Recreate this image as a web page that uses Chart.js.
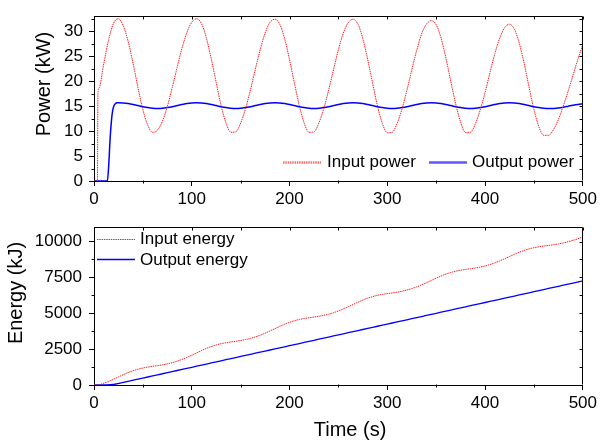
<!DOCTYPE html>
<html><head><meta charset="utf-8">
<script src="https://cdn.jsdelivr.net/npm/chart.js@4.4.0/dist/chart.umd.min.js"></script>
<style>
html,body{margin:0;padding:0;background:#fff;}
#wrap{position:relative;width:600px;height:441px;overflow:hidden;background:#fff;}
canvas{position:absolute;left:0;}
#c1{top:0;}
#c2{top:210px;}
</style></head><body>
<div id="wrap"><canvas id="c1" width="600" height="210"></canvas><canvas id="c2" width="600" height="231"></canvas></div>
<script>
// ---------- data ----------
const powerTime = [0,3.5,4,5,10,15,20,25,30,35,40,45,50,55,60,65,70,75,80,85,90,95,100,105,110,115,120,125,130,135,140,145,150,155,160,165,170,175,180,185,190,195,200,205,210,215,220,225,230,235,240,245,250,255,260,265,270,275,280,285,290,295,300,305,310,315,320,325,330,335,340,345,350,355,360,365,370,375,380,385,390,395,400,405,410,415,420,425,430,435,440,445,450,455,460,465,470,475,480,485,490,495,500];
const inputPower = [0,0,17.5,18.5,23.5,28.3,31.6,32.5,31.05,27.9,23.5,18.7,14.3,11.15,9.75,10.2,12.0,14.9,18.7,22.7,26.6,29.7,31.8,32.5,31.5,28.6,24.4,19.7,15.1,11.65,9.75,9.85,11.6,14.5,18.2,22.35,26.3,29.6,31.75,32.4,31.4,28.5,24.3,19.6,15.1,11.6,9.75,9.85,11.6,14.5,18.2,22.3,26.3,29.6,31.7,32.4,31.4,28.5,24.3,19.6,15.0,11.5,9.65,9.75,11.5,14.4,18.1,22.2,26.1,29.4,31.4,32.1,31.3,28.6,24.6,19.9,15.4,11.8,9.7,9.75,11.4,14.2,17.7,21.7,25.5,28.6,30.7,31.4,30.4,27.6,23.5,18.8,14.3,10.9,9.15,9.15,10.3,12.3,15.0,18.0,21.2,24.4,27.3];

const outTime = [0,13.7,15,16.5,17.8,19,20.5,22,23.5,25,30,35,40,45,50,55,60,65,70,75,80,85,90,95,100,105,110,115,120,125,130,135,140,145,150,155,160,165,170,175,180,185,190,195,200,205,210,215,220,225,230,235,240,245,250,255,260,265,270,275,280,285,290,295,300,305,310,315,320,325,330,335,340,345,350,355,360,365,370,375,380,385,390,395,400,405,410,415,420,425,430,435,440,445,450,455,460,465,470,475,480,485,490,495,500];
const outputPower = [0,0,3,8.5,12,14,15.1,15.5,15.65,15.67,
 15.63,15.50,15.32,15.10,14.88,14.70,14.57,14.53,14.57,14.70,14.88,15.10,15.32,15.50,15.63,15.67,
 15.63,15.50,15.32,15.10,14.88,14.70,14.57,14.53,14.57,14.70,14.88,15.10,15.32,15.50,15.63,15.67,
 15.63,15.50,15.32,15.10,14.88,14.70,14.57,14.53,14.57,14.70,14.88,15.10,15.32,15.50,15.63,15.67,
 15.63,15.50,15.32,15.10,14.88,14.70,14.57,14.53,14.57,14.70,14.88,15.10,15.32,15.50,15.63,15.67,
 15.63,15.50,15.32,15.10,14.88,14.70,14.57,14.53,14.57,14.70,14.88,15.10,15.32,15.50,15.63,15.67,
 15.63,15.50,15.32,15.10,14.88,14.70,14.57,14.52,14.54,14.62,14.78,14.98,15.18,15.34,15.45];

const energyTime = [0,5,10,15,20,25,30,35,40,45,50,55,60,65,70,75,80,85,90,95,100,105,110,115,120,125,130,135,140,145,150,155,160,165,170,175,180,185,190,195,200,205,210,215,220,225,230,235,240,245,250,255,260,265,270,275,280,285,290,295,300,305,310,315,320,325,330,335,340,345,350,355,360,365,370,375,380,385,390,395,400,405,410,415,420,425,430,435,440,445,450,455,460,465,470,475,480,485,490,495,500];
const inputEnergy = [0,18,123,252,402,562,721,868,997,1102,1185,1248,1301,1351,1406,1473,1557,1661,1784,1925,2079,2239,2399,2550,2682,2792,2879,2946,3000,3050,3104,3169,3251,3352,3474,3614,3767,3928,4088,4238,4370,4480,4567,4633,4687,4737,4791,4856,4938,5039,5161,5300,5454,5614,5773,5923,6055,6165,6251,6317,6371,6420,6473,6538,6619,6720,6841,6980,7132,7290,7449,7598,7731,7843,7931,7999,8053,8103,8156,8220,8300,8398,8516,8652,8800,8955,9110,9255,9382,9488,9571,9634,9684,9730,9779,9835,9904,9986,10084,10198,10327];

const outEnergyTime = [0,13,20,30,40,50,60,70,80,90,100,110,120,130,140,150,160,170,180,190,200,210,220,230,240,250,260,270,280,290,300,310,320,330,340,350,360,370,380,390,400,410,420,430,440,450,460,470,480,490,500];
const outputEnergy = [0,0,35,182,333,483,634,784,935,1085,1236,1386,1537,1687,1838,1988,2139,2289,2440,2590,2741,2891,3042,3192,3343,3493,3644,3794,3945,4095,4246,4396,4547,4697,4848,4998,5149,5299,5450,5600,5751,5901,6052,6202,6353,6503,6654,6804,6955,7105,7256];

const timeTicks = [0,100,200,300,400,500];
const powerTicks = [0,5,10,15,20,25,30];
const energyTicks = [0,2500,5000,7500,10000];

// ---------- helpers ----------
const FONT = '"Liberation Sans", Arial, Helvetica, sans-serif';
Chart.defaults.font.family = FONT;
Chart.defaults.color = '#000';
const pts = (xs, ys) => xs.map((x, i) => ({x, y: ys[i]}));

const decor = {
  id: 'decor',
  afterDraw(chart, args, o) {
    const ctx = chart.ctx, a = chart.chartArea, xs = chart.scales.x, ys = chart.scales.y;
    ctx.save();
    ctx.strokeStyle = '#000'; ctx.lineWidth = 1; ctx.setLineDash([]);
    const L = Math.round(a.left) + 0.5, R = Math.round(a.right) - 0.5, T = Math.round(a.top) + 0.5, B = Math.round(a.bottom) - 0.5;
    ctx.beginPath();
    ctx.moveTo(L, T); ctx.lineTo(R, T); ctx.lineTo(R, B);
    ctx.stroke();
    ctx.beginPath();
    o.xMinor.forEach(v => { const p = Math.round(xs.getPixelForValue(v)) + 0.5; ctx.moveTo(p, B); ctx.lineTo(p, B + 3); });
    o.yMinor.forEach(v => { const p = Math.round(ys.getPixelForValue(v)) + 0.5; ctx.moveTo(L, p); ctx.lineTo(L - 3, p); });
    o.xMinor.concat(o.xMajor).forEach(v => { const p = Math.round(xs.getPixelForValue(v)) + 0.5; ctx.moveTo(p, T); ctx.lineTo(p, T + 3); });
    o.yMinor.concat(o.yMajor).forEach(v => { const p = Math.round(ys.getPixelForValue(v)) + 0.5; ctx.moveTo(R, p); ctx.lineTo(R - 3, p); });
    ctx.stroke();
    ctx.font = '17px ' + FONT; ctx.fillStyle = '#000'; ctx.textBaseline = 'middle'; ctx.textAlign = 'left';
    o.legend.forEach(it => {
      ctx.save();
      ctx.strokeStyle = it.color; ctx.lineWidth = it.width; ctx.setLineDash(it.dash);
      ctx.beginPath(); ctx.moveTo(it.x1, it.y); ctx.lineTo(it.x2, it.y); ctx.stroke();
      ctx.restore();
      ctx.fillText(it.label, it.tx, it.ty);
    });
    ctx.font = '20px ' + FONT; ctx.textAlign = 'center'; ctx.textBaseline = 'middle';
    ctx.save(); ctx.translate(o.yTitle.x, o.yTitle.y); ctx.rotate(-Math.PI / 2); ctx.fillText(o.yTitle.text, 0, 0); ctx.restore();
    if (o.xTitle) ctx.fillText(o.xTitle.text, o.xTitle.x, o.xTitle.y);
    ctx.restore();
  }
};

function axisX(h) {
  return {
    type: 'linear', min: 0, max: 500,
    afterBuildTicks: s => { s.ticks = timeTicks.map(v => ({value: v})); },
    ticks: {maxRotation: 0, autoSkip: false, font: {size: 17}, padding: 3, color: '#000', callback: v => String(v)},
    grid: {drawOnChartArea: false, drawTicks: true, tickLength: 5, color: '#000', tickColor: '#000', lineWidth: 1},
    border: {display: true, color: '#000', width: 1},
    afterFit: s => { s.height = h; }
  };
}
function axisY(min, max, ticks, pad) {
  return {
    type: 'linear', min, max,
    afterBuildTicks: s => { s.ticks = ticks.map(v => ({value: v})); },
    ticks: {font: {size: 17}, padding: pad, color: '#000', callback: v => String(v)},
    grid: {drawOnChartArea: false, drawTicks: true, tickLength: 5, color: '#000', tickColor: '#000', lineWidth: 1},
    border: {display: true, color: '#000', width: 1},
    afterFit: s => { s.width = 94; }
  };
}

const common = {
  responsive: false, animation: false, events: [], devicePixelRatio: 1,
  plugins: {legend: {display: false}, tooltip: {enabled: false}},
  elements: {point: {radius: 0}, line: {cubicInterpolationMode: 'monotone', tension: 0.4}}
};

new Chart(document.getElementById('c1'), {
  type: 'line',
  data: {datasets: [
    {label: 'Input power', data: pts(powerTime, inputPower), borderColor: '#ff2020', borderWidth: 1, borderDash: [1.5, 0.8], fill: false},
    {label: 'Output power', data: pts(outTime, outputPower), borderColor: '#0000ff', borderWidth: 1.5, fill: false}
  ]},
  options: Object.assign({}, common, {
    layout: {padding: {left: 0, right: 17, top: 11, bottom: 0}},
    scales: {x: axisX(29), y: axisY(0, 33, powerTicks, 6)},
    plugins: Object.assign({}, common.plugins, {decor: {
      xMajor: timeTicks, xMinor: [50,150,250,350,450],
      yMajor: powerTicks, yMinor: [2.5,7.5,12.5,17.5,22.5,27.5,32.5],
      legend: [
        {label: 'Input power', x1: 283, x2: 321, y: 162.5, tx: 327, ty: 162, color: '#ff7070', width: 2.5, dash: [1.5, 0.8]},
        {label: 'Output power', x1: 429, x2: 467, y: 162.5, tx: 472, ty: 162, color: '#5a5aff', width: 2.5, dash: []}
      ],
      yTitle: {text: 'Power (kW)', x: 44.5, y: 84}
    }})
  }),
  plugins: [decor]
});

new Chart(document.getElementById('c2'), {
  type: 'line',
  data: {datasets: [
    {label: 'Input energy', data: pts(energyTime, inputEnergy), borderColor: '#ff2020', borderWidth: 1, borderDash: [1.5, 0.8], fill: false},
    {label: 'Output energy', data: pts(outEnergyTime, outputEnergy), borderColor: '#0000ff', borderWidth: 1.3, fill: false}
  ]},
  options: Object.assign({}, common, {
    layout: {padding: {left: 0, right: 17, top: 16, bottom: 0}},
    scales: {x: axisX(56), y: axisY(0, 11000, energyTicks, 7)},
    plugins: Object.assign({}, common.plugins, {decor: {
      xMajor: timeTicks, xMinor: [50,150,250,350,450],
      yMajor: energyTicks, yMinor: [1250,3750,6250,8750],
      legend: [
        {label: 'Input energy', x1: 97, x2: 135, y: 29.5, tx: 140, ty: 29.5, color: '#ff2020', width: 1, dash: [1.5, 0.8]},
        {label: 'Output energy', x1: 97, x2: 135, y: 49.5, tx: 140, ty: 50.5, color: '#0000ff', width: 1.3, dash: []}
      ],
      yTitle: {text: 'Energy (kJ)', x: 16, y: 83},
      xTitle: {text: 'Time (s)', x: 350, y: 220.5}
    }})
  }),
  plugins: [decor]
});
</script>
</body></html>
